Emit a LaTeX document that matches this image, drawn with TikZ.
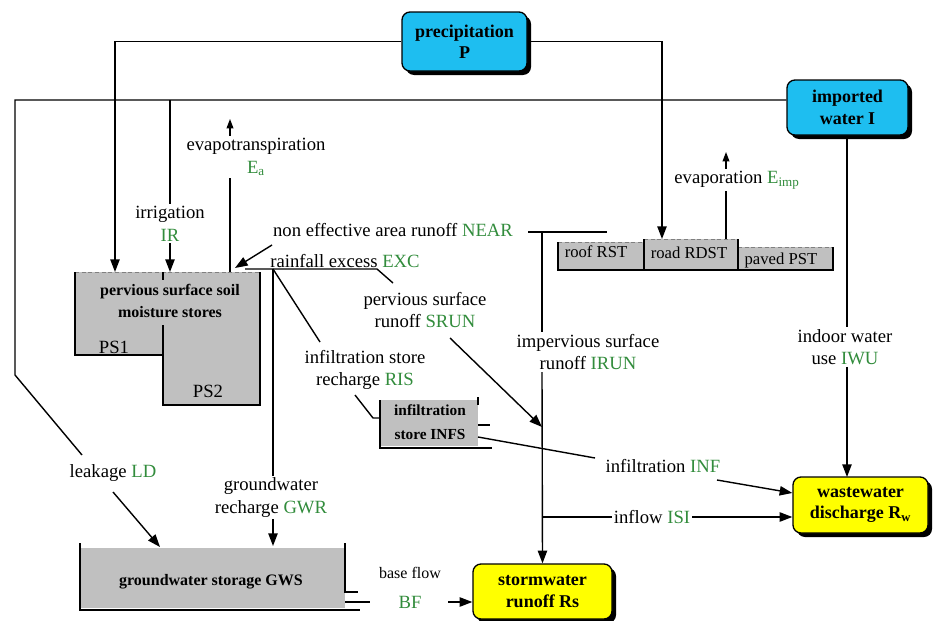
\documentclass[tikz,border=0pt]{standalone}
\usepackage{fontspec}
\setmainfont{Liberation Serif}
\usetikzlibrary{arrows.meta,shadows,calc}
\definecolor{cyanbox}{RGB}{30,190,240}
\definecolor{ybox}{RGB}{255,255,0}
\definecolor{gbox}{RGB}{192,192,192}
\definecolor{lbl}{RGB}{50,140,60}
\newcommand\grn[1]{\textcolor{lbl}{#1}}
\begin{document}
\begin{tikzpicture}[x=0.75pt,y=-0.75pt, line width=1.05pt,
  >={Triangle[length=9.5pt,width=7pt]},
  src/.style={draw=black, line width=1pt, rounded corners=6pt, align=center,
    font=\fontsize{13.5}{16}\selectfont\bfseries, inner sep=2pt,
    drop shadow={shadow xshift=3pt, shadow yshift=-3pt, opacity=1, fill=black}},
  lab/.style={align=center, font=\fontsize{14}{17}\selectfont, inner sep=1pt},
  boxtxt/.style={align=center, font=\fontsize{12}{16.5}\selectfont\bfseries, inner sep=1pt},
  smalltxt/.style={font=\fontsize{12.5}{14}\selectfont, inner sep=1pt},
  edgeline/.style={line width=0.6pt, gray, densely dashed},
]
\useasboundingbox (0,0) rectangle (936,621);

% ---------- source / sink boxes ----------
\node[src, fill=cyanbox, minimum width=93.75pt, minimum height=44.25pt] (P) at (464.5,41.5) {precipitation\\P};
\node[src, fill=cyanbox, minimum width=90.75pt, minimum height=41.25pt] (I) at (847.5,107.5) {imported\\water I};
\node[src, fill=ybox, minimum width=101.25pt, minimum height=42pt] (W) at (860.5,505) {wastewater\\discharge R\textsubscript{w}};
\node[src, fill=ybox, minimum width=104.25pt, minimum height=41.25pt] (S) at (542.5,591.5) {stormwater\\runoff Rs};

% ---------- pervious surface stores ----------
\fill[gbox] (75,272) -- (260,272) -- (260,405) -- (163,405) -- (163,355) -- (75,355) -- cycle;
\draw[edgeline] (75,272) -- (260,272);
\draw (260,272) -- (260,405) -- (163,405) -- (163,325);
\draw (163,355) -- (75,355) -- (75,272);
\draw (163,272) -- (163,280);
\node[boxtxt] (pst) at (170,301) {pervious surface soil\\moisture stores};
\node[lab] (ps1) at (114,347) {PS1};
\node[lab] (ps2) at (208,391) {PS2};

% ---------- impervious stores ----------
\fill[gbox] (558,242) rectangle (644,270);
\fill[gbox] (644,239) rectangle (738,270);
\fill[gbox] (738,247) rectangle (833,270);
\draw[edgeline] (558,242) -- (644,242);
\draw[edgeline] (644,239) -- (738,239);
\draw[edgeline] (738,247) -- (833,247);
\draw (558,242) -- (558,270) -- (833,270) -- (833,247);
\draw (644,239) -- (644,270);
\draw (738,239) -- (738,270);
\node[smalltxt] (rst) at (596,252) {roof RST};
\node[smalltxt] (rdst) at (689,253) {road RDST};
\node[smalltxt] (pvst) at (781,260) {paved PST};

% ---------- infiltration store ----------
\fill[gbox] (380,400) rectangle (478,446);
\draw (380,400) -- (380,448) -- (492,448);
\draw (478,397) -- (478,405);
\draw (478,425) -- (490,425);
\node[boxtxt, font=\fontsize{11.5}{18}\selectfont\bfseries] (infs) at (430,422) {infiltration\\store INFS};

% ---------- groundwater storage ----------
\fill[gbox] (80,548) rectangle (345,608);
\draw (80,543) -- (80,610) -- (360,610);
\draw (345,543) -- (345,592) -- (358,592);
\node[boxtxt] (gws) at (211,582) {groundwater storage GWS};

% ---------- coordinates ----------
\coordinate (psP) at (115,272);
\coordinate (roadP) at (662,239);
\coordinate (lk1) at (15,100);
\coordinate (lk2) at (15,375);
\coordinate (lk3) at (82,455);
\coordinate (gwsLD) at (160,547);
\coordinate (ir0) at (170,100);
\coordinate (psIR) at (170,272);
\coordinate (psE) at (230,272);
\coordinate (psN) at (235,268);
\coordinate (ex0) at (245,269);
\coordinate (ex1) at (377,269);
\coordinate (gw0) at (273,269);
\coordinate (gwsT) at (273,546);
\coordinate (nr0) at (528,232);
\coordinate (nr1) at (607,232);
\coordinate (nrV) at (542,232);
\coordinate (infsL) at (380,418);
\coordinate (infsR) at (478,437);
\coordinate (gwsO) at (345,602);
\coordinate (rdT) at (726,239);
\coordinate (iwuT) at (847,477);

% ---------- labels ----------
\node[lab] (evt) at (256,157) {evapotranspiration\\\grn{E\textsubscript{a}}};
\node[lab] (irr) at (170,223.5) {irrigation\\\grn{IR}};
\node[lab] (near) at (393,230) {non effective area runoff \grn{NEAR}};
\node[lab] (exc) at (345,261) {rainfall excess \grn{EXC}};
\node[lab] (srun) at (425,310) {pervious surface\\runoff \grn{SRUN}};
\node[lab] (ris) at (365,370) {infiltration store\\recharge \grn{RIS}};
\node[lab] (irun) at (588,352) {impervious surface\\runoff \grn{IRUN}};
\node[lab] (evap) at (737,180) {evaporation \grn{E\textsubscript{imp}}};
\node[lab] (iwu) at (845,347) {indoor water\\use \grn{IWU}};
\node[lab] (ld) at (113,473) {leakage \grn{LD}};
\node[lab] (gwr) at (271,497.5) {groundwater\\recharge \grn{GWR}};
\node[lab] (inf) at (663,466) {infiltration \grn{INF}};
\node[lab] (isi) at (652,517) {inflow \grn{ISI}};
\node[lab, font=\fontsize{12}{14}\selectfont] (bfa) at (410,573) {base flow};
\node[lab] (bf) at (410,602) {\grn{BF}};

% ---------- connectors ----------
\draw[->] (P.west) -| (psP);
\draw[->] (P.east) -| (roadP);
\draw (I.west |- lk1) -- (lk1) -- (lk2) -- (lk3);
\draw[->] (113,492) -- (gwsLD);
\draw (ir0) -- (irr.north);
\draw[->] (irr.south) -- (psIR);
\draw (psE) -- (psE |- evt.south);
\draw[->, >={Triangle[length=7pt,width=5pt]}] (psE |- evt.north) -- ++(0,-17);
\draw[->] (272,245) -- (psN);
\draw (ex0) -- (ex1) -- (393,283);
\draw[->] (450,338) -- (542,427);
\draw (gw0) -- (320,342);
\draw (355,395) -- (373,418) -- (infsL);
\draw (gw0) -- (gw0 |- gwr.north);
\draw[->] (gw0 |- gwr.south) -- (gwsT);
\draw (nr0) -- (nr1);
\draw (nrV) -- (nrV |- irun.north);
\draw[->] (nrV |- irun.south) -- (S.north);
\draw (infsR) -- (595,458);
\draw[->] (717,480) -- (W.west |- 0,493);
\draw (nrV |- isi) -- (isi.west);
\draw[->] (isi.east) -- (W.west |- isi);
\draw (rdT) -- (rdT |- evap.south);
\draw[->, >={Triangle[length=7pt,width=5pt]}] (rdT |- evap.north) -- ++(0,-17);
\draw (I.south -| iwuT) -- (iwuT |- iwu.north);
\draw[->] (iwuT |- iwu.south) -- (iwuT);
\draw (gwsO) -- (370,602);
\draw[->] (448,602) -- (S.west |- gwsO);
\end{tikzpicture}
\end{document}
